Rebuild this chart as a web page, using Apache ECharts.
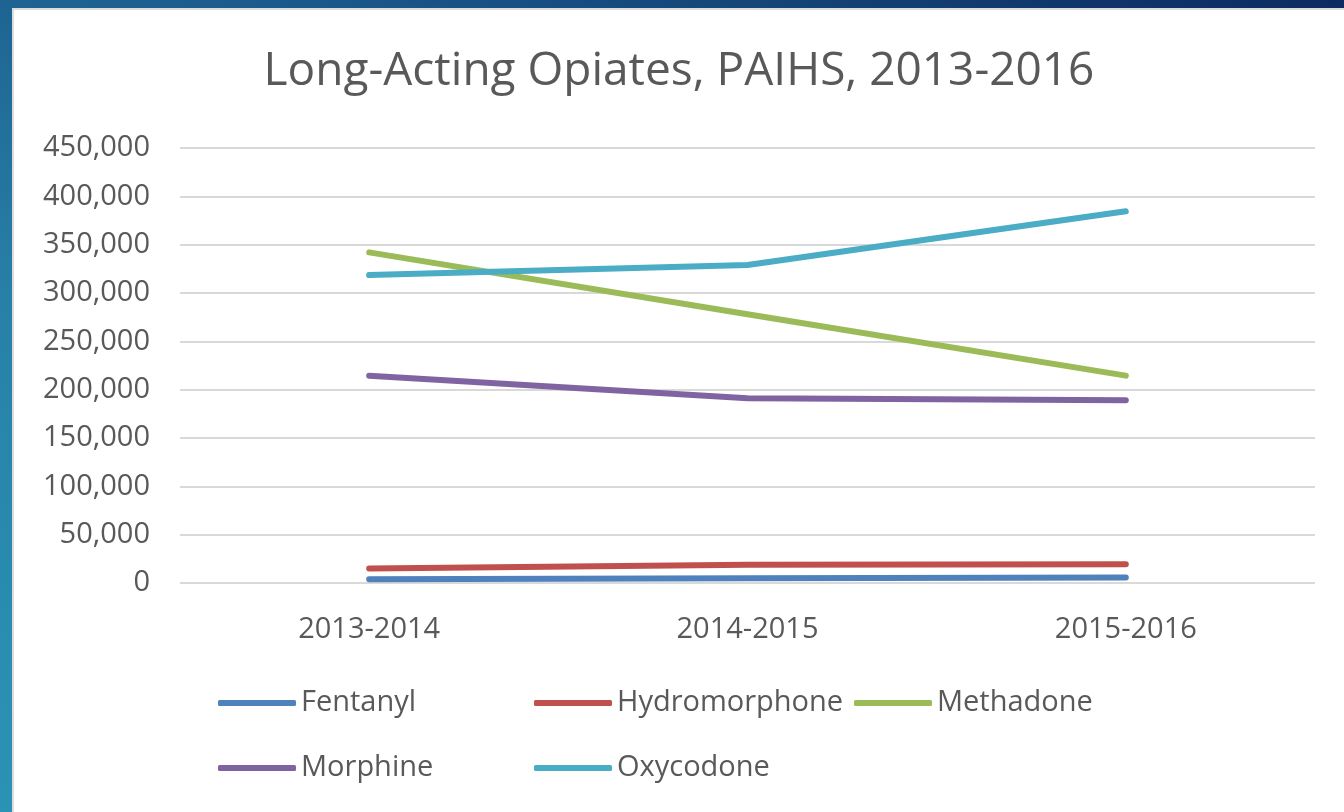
<!DOCTYPE html>
<html>
<head>
<meta charset="utf-8">
<script src="https://cdn.jsdelivr.net/npm/echarts@6/dist/echarts.min.js"></script>
<style>
  html, body {
    margin: 0;
    padding: 0;
    width: 1344px;
    height: 812px;
    overflow: hidden;
    background: linear-gradient(20deg, #2b93b6 0%, #2780a8 40%, #1b5a8c 70%, #0c2a60 100%);
  }
  #chart {
    position: absolute;
    left: 12px;
    top: 8px;
    width: 1332px;
    height: 804px;
    background: #fff;
    box-sizing: border-box;
    border-left: 2px solid #dcdcdc;
    border-top: 2px solid #dcdcdc;
  }
</style>
</head>
<body>
<div id="chart"></div>
<script>
  // 数据
  const categories = ['2013-2014', '2014-2015', '2015-2016']
  const fentanyl = [4000, 5000, 5800]
  const hydromorphone = [15000, 19000, 19500]
  const methadone = [342000, 278000, 214500]
  const morphine = [214500, 191000, 189000]
  const oxycodone = [318500, 329000, 384500]

  const textColor = '#595959'
  const font = 'Open Sans'

  const seriesDefs = [
    { name: 'Fentanyl', data: fentanyl, color: '#4f81bd', left: 199, top: 670 },
    { name: 'Hydromorphone', data: hydromorphone, color: '#c0504d', left: 515, top: 670 },
    { name: 'Methadone', data: methadone, color: '#9bbb59', left: 835, top: 670 },
    { name: 'Morphine', data: morphine, color: '#8064a2', left: 199, top: 735 },
    { name: 'Oxycodone', data: oxycodone, color: '#4bacc6', left: 515, top: 735 },
  ]

  const chart = echarts.init(document.getElementById('chart'))

  chart.setOption({
    animation: false,
    title: {
      text: 'Long-Acting Opiates, PAIHS, 2013-2016',
      left: 'center',
      top: 34,
      textStyle: {
        color: textColor,
        fontFamily: font,
        fontSize: 46,
        fontWeight: 'normal',
      },
    },
    // 每个图例单独定位
    legend: seriesDefs.map((s) => ({
      data: [s.name],
      left: s.left,
      top: s.top,
      icon: 'roundRect',
      itemWidth: 78,
      itemHeight: 6,
      itemGap: 0,
      textStyle: {
        color: textColor,
        fontFamily: font,
        fontSize: 29,
        lineHeight: 36,
        padding: [0, 0, 0, 0],
      },
    })),
    grid: {
      left: 166,
      right: 29,
      top: 138,
      bottom: 229,
      containLabel: false,
    },
    xAxis: {
      type: 'category',
      data: categories,
      boundaryGap: true,
      axisLine: { show: false },
      axisTick: { show: false },
      axisLabel: {
        color: textColor,
        fontFamily: font,
        fontSize: 29,
        margin: 32,
      },
    },
    yAxis: {
      type: 'value',
      min: 0,
      max: 450000,
      interval: 50000,
      axisLine: { show: false },
      axisTick: { show: false },
      splitLine: {
        lineStyle: { color: '#d9d9d9', width: 2 },
      },
      axisLabel: {
        color: textColor,
        fontFamily: font,
        fontSize: 29,
        margin: 30,
        formatter: (v) => v.toLocaleString('en-US'),
      },
    },
    series: seriesDefs.map((s) => ({
      name: s.name,
      type: 'line',
      data: s.data,
      symbol: 'none',
      lineStyle: { color: s.color, width: 6, cap: 'round', join: 'round' },
      itemStyle: { color: s.color },
    })),
  })
</script>
</body>
</html>
